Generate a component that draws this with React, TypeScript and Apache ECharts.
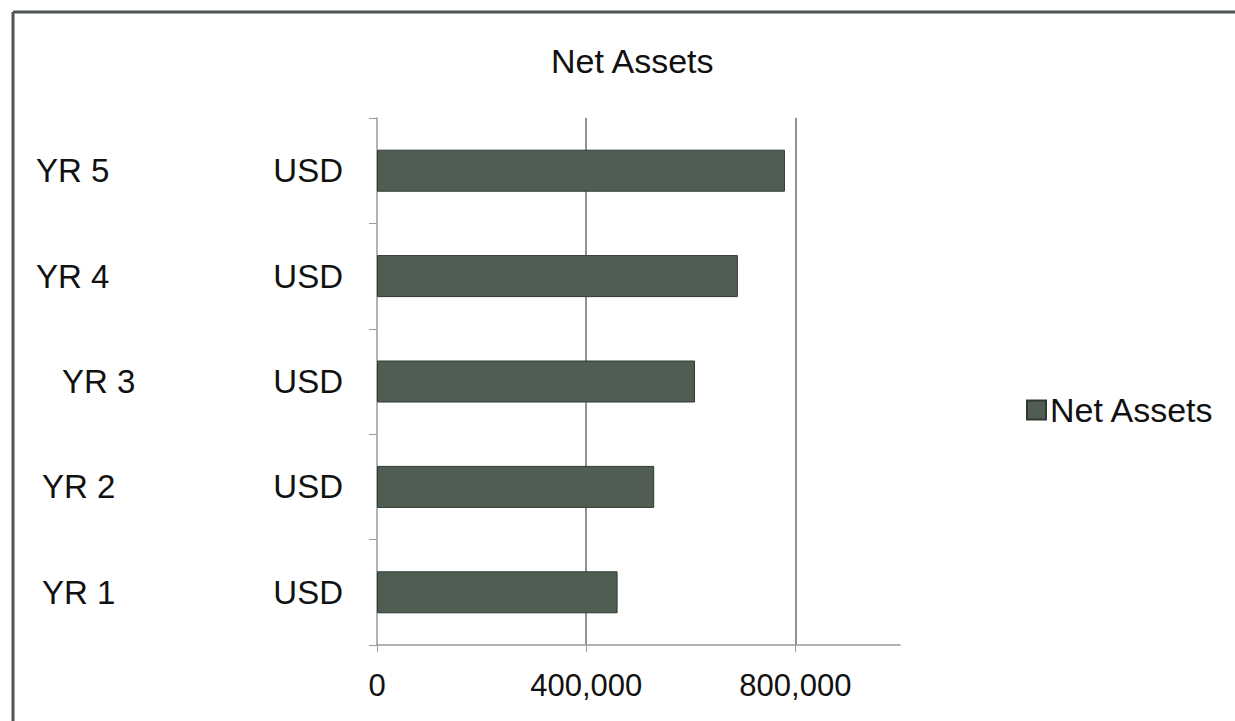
import React, { useEffect, useRef } from "react";
import * as echarts from "echarts";

const categories = ["YR 1", "YR 2", "YR 3", "YR 4", "YR 5"];
const currencyLabel = "USD";
const netAssets = [460000, 530000, 608000, 690000, 780000];
const xTickValues = [0, 400000, 800000];
const seriesName = "Net Assets";
const chartTitle = "Net Assets";

const FONT = "'Liberation Sans', Arial, sans-serif";

export default function App() {
  const ref = useRef<HTMLDivElement>(null);

  useEffect(() => {
    if (!ref.current) return;
    const chart = echarts.init(ref.current, undefined, { renderer: "svg" });
    const indentStyle: Record<string, number> = { "YR 1": 6, "YR 2": 6, "YR 3": 26, "YR 4": 0, "YR 5": 0 };
    chart.setOption({
      animation: false,
      backgroundColor: "#ffffff",
      textStyle: { fontFamily: FONT },
      title: {
        text: chartTitle,
        left: 546,
        top: 39,
        textStyle: { fontFamily: FONT, fontSize: 34, fontWeight: "normal", color: "#111" },
      },
      legend: {
        data: [seriesName],
        left: 1021,
        top: 388,
        itemWidth: 19,
        itemHeight: 19,
        icon: "rect",
        textStyle: { fontFamily: FONT, fontSize: 34, color: "#111", padding: [0, 0, 0, -1] },
      },
      grid: { left: 377, right: 335, top: 118, bottom: 76, containLabel: false },
      xAxis: {
        type: "value",
        min: 0,
        max: 1000000,
        interval: 400000,
        axisLine: { show: true, lineStyle: { color: "#9a9a9a", width: 1.5 } },
        axisTick: { show: true, customValues: xTickValues, length: 7, lineStyle: { color: "#9a9a9a" } },
        axisLabel: {
          customValues: xTickValues,
          margin: 25,
          fontFamily: FONT,
          fontSize: 31,
          color: "#111",
          formatter: (v: number) => v.toLocaleString("en-US"),
        },
        splitLine: {
          show: true,
          showMinLine: false,
          showMaxLine: true,
          lineStyle: { color: "#6e6e6e", width: 1.5 },
        },
      },
      yAxis: [
        {
          type: "category",
          data: categories,
          position: "left",
          axisLine: { show: true, lineStyle: { color: "#9a9a9a", width: 1.5 } },
          axisTick: { show: true, length: 8, lineStyle: { color: "#9a9a9a" } },
          axisLabel: {
            margin: 34,
            fontFamily: FONT,
            fontSize: 33,
            color: "#111",
            formatter: () => currencyLabel,
          },
        },
        {
          type: "category",
          data: categories,
          position: "left",
          axisLine: { show: false },
          axisTick: { show: false },
          axisLabel: {
            margin: 341,
            align: "left",
            fontFamily: FONT,
            fontSize: 33,
            color: "#111",
            formatter: (v: string) => `{p${indentStyle[v] ?? 0}|}${v}`,
            rich: {
              p0: { width: 0 },
              p6: { width: 6 },
              p26: { width: 26 },
            },
          },
        },
      ],
      series: [
        {
          name: seriesName,
          type: "bar",
          yAxisIndex: 0,
          data: netAssets,
          barWidth: 42,
          itemStyle: { color: "#505d52", borderColor: "#2e3a31", borderWidth: 1 },
        },
      ],
      graphic: [
        { type: "line", shape: { x1: 13, y1: 12, x2: 1235, y2: 12 }, style: { stroke: "#4f574f", lineWidth: 3 } },
        { type: "line", shape: { x1: 13, y1: 12, x2: 13, y2: 721 }, style: { stroke: "#4f574f", lineWidth: 3 } },
      ],
    });
    return () => chart.dispose();
  }, []);

  return (
    <div
      ref={ref}
      style={{ position: "absolute", left: 0, top: 0, width: 1235, height: 721 }}
    />
  );
}
